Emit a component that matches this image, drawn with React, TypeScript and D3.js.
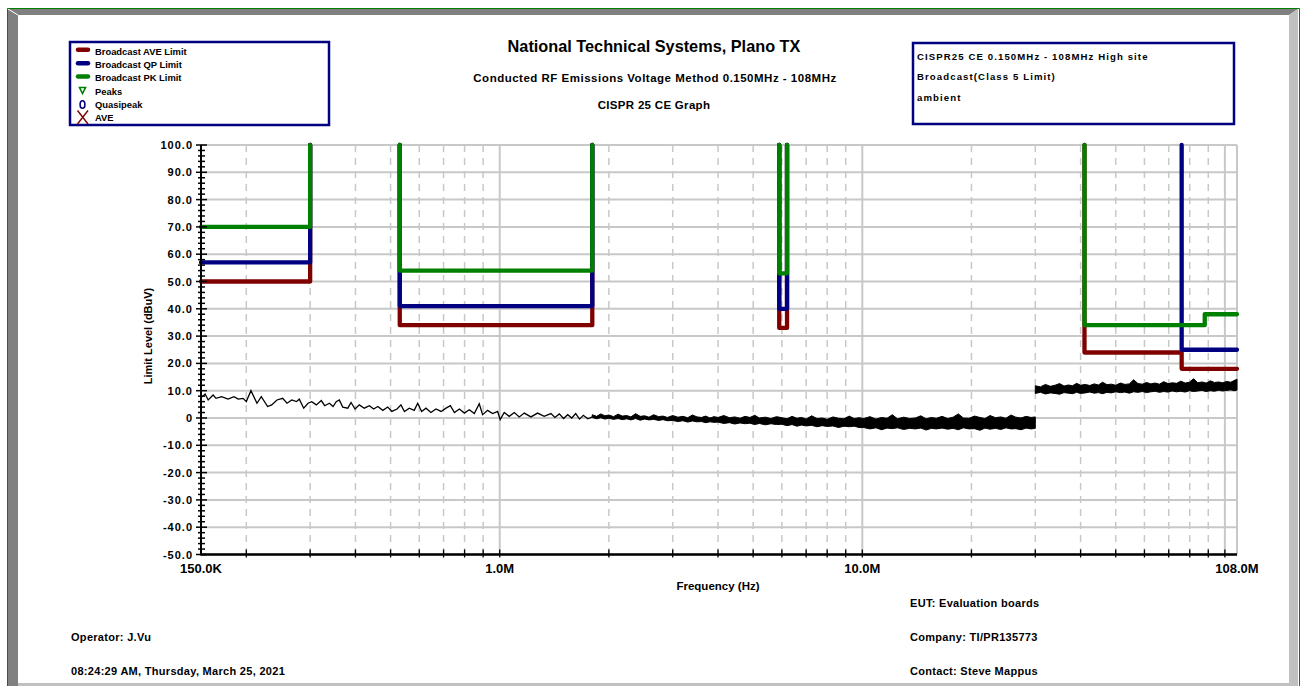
import React from "react";
import * as d3 from "d3";

const W = 1301;
const H = 686;
const PLOT = { left: 201, right: 1237, top: 145, bottom: 554.5 };
const FONT = '"Liberation Sans", Arial, Helvetica, sans-serif';

const RED = "#800000";
const NAVY = "#000080";
const GREEN = "#008000";
const GRID = "#c8c8c8";

// x axis (MHz)
const xTickMHz = [0.15, 1, 10, 108];
const xTickLabels = ["150.0K", "1.0M", "10.0M", "108.0M"];
// y axis (dBuV)
const yTickValues = [100, 90, 80, 70, 60, 50, 40, 30, 20, 10, 0, -10, -20, -30, -40, -50];
const yTickLabels = ["100.0", "90.0", "80.0", "70.0", "60.0", "50.0", "40.0", "30.0", "20.0", "10.0", "0", "-10.0", "-20.0", "-30.0", "-40.0", "-50.0"];

// limit lines: [start MHz, stop MHz, level dBuV]
const aveLimit = [[0.15, 0.3, 50], [0.53, 1.8, 34], [5.9, 6.2, 33], [41, 76, 24], [76, 108, 18]];
const qpLimit = [[0.15, 0.3, 57], [0.53, 1.8, 41], [5.9, 6.2, 40], [76, 108, 25]];
const pkLimit = [[0.15, 0.3, 70], [0.53, 1.8, 54], [5.9, 6.2, 53], [41, 88, 34], [88, 108, 38]];

// ambient scan, low part (MHz, dBuV)
const scanFreq = [
  0.150, 0.152, 0.154, 0.157, 0.162, 0.165, 0.171, 0.178, 0.185, 0.190, 0.196, 0.200, 0.206, 0.214, 0.220,
  0.229, 0.235, 0.243, 0.252, 0.259, 0.267, 0.275, 0.280, 0.288, 0.296, 0.303, 0.312, 0.322, 0.329, 0.339,
  0.347, 0.354, 0.361, 0.369, 0.381, 0.389, 0.399, 0.410, 0.423, 0.437, 0.449, 0.461, 0.476, 0.491, 0.504,
  0.521, 0.534, 0.546, 0.563, 0.581, 0.594, 0.609, 0.626, 0.646, 0.667, 0.689, 0.711, 0.731, 0.750, 0.774,
  0.799, 0.824, 0.851, 0.878, 0.897, 0.926, 0.956, 0.987, 1.003, 1.029, 1.062, 1.097, 1.132, 1.169, 1.219,
  1.272, 1.326, 1.384, 1.42, 1.46, 1.50, 1.54, 1.58, 1.62, 1.66, 1.70, 1.75, 1.80,
];
const scanLevel = [
  7.6, 8.1, 8.8, 6.6, 8.4, 7.2, 7.8, 6.9, 7.8, 6.9, 7.2, 6.0, 10.0, 5.4, 7.8,
  4.2, 4.8, 6.6, 7.2, 5.4, 6.6, 6.0, 6.9, 3.6, 5.4, 6.0, 4.8, 6.4, 4.5, 5.4,
  4.2, 6.0, 6.6, 4.0, 3.6, 5.7, 3.3, 4.8, 3.6, 4.5, 3.3, 4.2, 2.8, 4.0, 2.4,
  3.3, 4.8, 2.4, 3.6, 2.8, 5.4, 2.4, 3.6, 2.0, 3.3, 2.4, 3.6, 4.5, 2.0, 3.3,
  1.8, 3.0, 1.6, 5.2, 1.2, 2.8, 1.6, 2.4, -0.6, 2.0, 0.6, 2.0, 0.4, 1.8, 0.4,
  1.8, 0.6, 1.6, 0.2, 1.5, -0.2, 1.2, 0.0, 1.6, -0.4, 1.0, -0.3, 0.4,
];

// dense part of scan, drawn as min/max envelope
const bandAFreq = [
  1.8, 1.85, 1.9, 1.95, 2.0, 2.06, 2.12, 2.18, 2.24, 2.3, 2.37, 2.44, 2.51, 2.58, 2.66, 2.74, 2.82, 2.9,
  3.0, 3.1, 3.2, 3.3, 3.4, 3.5, 3.6, 3.7, 3.8, 3.9,
  4.0, 4.15, 4.3, 4.45, 4.6, 4.75, 4.9, 5.05, 5.2, 5.4, 5.6, 5.8,
  6.0, 6.2, 6.4, 6.6, 6.8, 7.0, 7.25, 7.5, 7.75, 8.0, 8.3, 8.6, 8.9, 9.2, 9.5, 9.8,
  10.1, 10.5, 10.9, 11.3, 11.7, 12.1, 12.5, 13.0, 13.5, 14.0, 14.5, 15.0, 15.5, 16.0,
  16.6, 17.2, 17.8, 18.4, 19.0, 19.7, 20.4, 21.1, 21.8, 22.5, 23.3, 24.1, 24.9, 25.7, 26.5, 27.4, 28.3, 29.2, 30.0,
];
const bandAHi = [
  1.2, 0.6, 1.5, 0.8, 1.1, 0.5, 1.4, 0.7, 0.9, 0.4, 1.6, 0.6, 0.8, 0.3, 1.2, 0.5, 0.7, 0.2,
  0.9, 0.3, 0.6, 0.1, 1.1, 0.4, 0.2, 0.7, 0.0, 0.5,
  0.2, 0.9, 0.1, 0.4, -0.1, 0.6, 0.2, 1.0, 0.0, 0.3, -0.2, 0.5,
  0.1, -0.3, 0.6, -0.1, 0.2, -0.4, 0.8, -0.2, 0.0, -0.5, 0.4, -0.1, -0.3, 0.7, -0.2, 0.1,
  -0.2, 0.5, -0.4, 0.2, -0.1, 1.2, -0.3, 0.3, -0.2, 0.0, 0.8, -0.3, 0.2, -0.1,
  0.6, -0.2, 0.3, 1.5, 0.0, -0.1, 0.7, 0.2, -0.2, 0.9, 0.1, 0.4, -0.1, 1.1, 0.3, 0.0, 0.6, 0.2, 0.4,
];
const bandALo = [
  0.2, -0.3, 0.1, -0.4, -0.1, -0.5, -0.2, -0.6, -0.3, -0.7, -0.2, -0.8, -0.4, -0.7, -0.5, -0.9, -0.6, -1.0,
  -0.9, -1.3, -1.0, -1.5, -1.1, -1.4, -1.3, -1.7, -1.4, -1.6,
  -1.5, -2.0, -1.7, -2.2, -1.8, -2.1, -1.9, -2.4, -2.0, -2.5, -2.1, -2.4,
  -2.3, -2.8, -2.4, -3.0, -2.6, -2.9, -2.7, -3.2, -2.8, -3.1, -2.9, -3.5, -3.0, -3.2, -3.0, -3.5,
  -3.5, -4.0, -3.6, -4.3, -3.7, -3.9, -3.6, -4.2, -3.8, -4.0, -3.7, -4.4, -3.8, -4.0,
  -3.7, -4.1, -3.8, -4.3, -3.6, -4.0, -3.9, -4.5, -3.7, -4.1, -3.8, -4.2, -3.6, -4.0, -3.9, -4.3, -3.7, -4.0, -3.8,
];

const bandBFreq = [
  30, 31, 32, 33, 34, 35, 36, 37, 38, 39, 40, 41.2, 42.4, 43.6, 44.8, 46, 47.3, 48.6,
  50, 51.5, 53, 54.5, 56, 57.6, 59.2, 60.8, 62.5, 64.2, 66, 67.8, 69.7,
  71.6, 73.6, 75.6, 77.7, 79.8, 82, 84.2, 86.5, 88.8, 91.2, 93.6, 96.1, 98.6, 101.2, 103.8, 106, 108,
];
const bandBHi = [
  11.8, 11.4, 12.3, 11.6, 12.0, 12.6, 11.7, 12.1, 11.8, 12.7, 12.0, 12.3, 11.9, 12.5, 12.1, 13.1, 12.2, 12.4,
  12.0, 12.8, 12.3, 12.5, 14.0, 12.6, 12.4, 13.0, 12.5, 12.8, 12.4, 13.3, 12.6,
  12.9, 12.7, 13.5, 12.8, 13.1, 14.4, 12.9, 13.2, 12.8, 13.6, 13.0, 13.2, 12.9, 13.4, 13.1, 13.7, 14.2,
];
const bandBLo = [
  9.0, 9.4, 8.8, 9.2, 9.0, 8.7, 9.3, 9.1, 8.9, 9.4, 9.0, 9.2, 9.5, 9.1, 9.3, 8.9, 9.4, 9.2,
  9.6, 9.3, 9.5, 9.1, 9.6, 9.4, 9.7, 9.3, 9.6, 9.8, 9.4, 9.7, 9.5,
  9.9, 9.6, 9.8, 9.5, 10.0, 9.7, 9.9, 10.1, 9.7, 10.0, 9.8, 10.2, 9.9, 10.1, 10.3, 10.0, 10.2,
];

const legendNames = ["Broadcast AVE Limit", "Broadcast QP Limit", "Broadcast PK Limit", "Peaks", "Quasipeak", "AVE"];
const infoLines = ["CISPR25 CE 0.150MHz - 108MHz High site", "Broadcast(Class 5 Limit)", "ambient"];

const x = d3.scaleLog().domain([0.15, 108]).range([PLOT.left, PLOT.right]);
const y = d3.scaleLinear().domain([-50, 100]).range([PLOT.bottom, PLOT.top]);

const line = d3.line<[number, number]>().x((d) => x(d[0])).y((d) => y(d[1]));

// one path per limit series, jumping off the top of the chart between bands
function limitPath(segs: number[][]) {
  let parts: [number, number][][] = [];
  let cur: [number, number][] = [];
  segs.forEach((s, i) => {
    const prev = segs[i - 1];
    if (prev && prev[1] === s[0]) {
      cur.push([s[0], s[2]]);
    } else {
      if (cur.length) parts.push(cur);
      cur = s[0] <= 0.15 ? [] : [[s[0], 100]];
      cur.push([s[0], s[2]]);
    }
    cur.push([s[1], s[2]]);
    const next = segs[i + 1];
    if (!(next && next[0] === s[1]) && s[1] < 108) cur.push([s[1], 100]);
  });
  parts.push(cur);
  return parts.map((p) => line(p)).join("");
}

function bandPath(freq: number[], hi: number[], lo: number[]) {
  const area = d3
    .area<number>()
    .x((_, i) => x(freq[i]))
    .y0((_, i) => y(lo[i]))
    .y1((_, i) => y(hi[i]));
  return area(freq) as string;
}

const App = () => {
  // gridline frequencies: 2..9 multiples dashed, decades solid
  const gridF: { f: number; solid: boolean }[] = [];
  [0.1, 1, 10, 100].forEach((dec) => {
    for (let k = 1; k <= 9; k++) {
      const f = dec * k;
      if (f > 0.15 && f < 108) gridF.push({ f, solid: k === 1 });
    }
  });
  const minorY = d3.range(-50, 101, 2);
  const scanPts = scanFreq.map((f, i) => [f, scanLevel[i]] as [number, number]);

  return (
    <svg width={W} height={H} style={{ position: "absolute", left: 0, top: 0, background: "#fff" }} fontFamily={FONT}>
      <rect x={0} y={0} width={W} height={H} fill="#fff" />
      {/* frame bevel */}
      <polygon points="8,9 1298,9 1289,15 18,15" fill="#808080" />
      <polygon points="8,9 18,15 18,686 8,686" fill="#808080" />
      <polygon points="1298,9 1298,686 1289,686 1289,15" fill="#c0c0c0" />
      <rect x={18} y={683} width={1271} height={3} fill="#c0c0c0" />
      <line x1={8} y1={9} x2={18} y2={15} stroke="#fff" strokeWidth={1} />
      <path d="M7.5,686 V8.5 H1299.5 V686" fill="none" stroke={GREEN} strokeWidth={1} />

      {/* titles */}
      <g fontWeight="bold" textAnchor="middle" fill="#000">
        <text x={654} y={52} fontSize={16.3}>National Technical Systems, Plano TX</text>
        <text x={655} y={82} fontSize={11.5} letterSpacing={0.5}>Conducted RF Emissions Voltage Method 0.150MHz - 108MHz</text>
        <text x={654} y={109} fontSize={11.5} letterSpacing={0.3}>CISPR 25 CE Graph</text>
      </g>

      {/* legend */}
      <rect x={70} y={42} width={259} height={83} fill="#fff" stroke={NAVY} strokeWidth={2.5} />
      <g fontWeight="bold" fontSize={9.4} fill="#000">
        {legendNames.map((n, i) => (
          <text key={n} x={95} y={54.7 + i * 13.35}>{n}</text>
        ))}
      </g>
      {[RED, NAVY, GREEN].map((c, i) => (
        <line key={c} x1={78} x2={88} y1={49.8 + i * 13.35} y2={49.8 + i * 13.35} stroke={c} strokeWidth={4.5} strokeLinecap="round" />
      ))}
      <path d="M79.5,87.5 L85.5,87.5 L82.5,93.5 Z" fill="none" stroke={GREEN} strokeWidth={1.6} />
      <ellipse cx={82.5} cy={104.5} rx={2.4} ry={3.8} fill="none" stroke={NAVY} strokeWidth={1.6} />
      <path d="M77.5,110.5 L88,124 M88,110.5 L77.5,124" stroke={RED} strokeWidth={1.4} fill="none" />

      {/* info box */}
      <rect x={913} y={43} width={321} height={81} fill="#fff" stroke={NAVY} strokeWidth={2.5} />
      <g fontWeight="bold" fontSize={9.6} fill="#000" letterSpacing={1.1}>
        {infoLines.map((t, i) => (
          <text key={t} x={917} y={[59.5, 80, 100.5][i]}>{t}</text>
        ))}
      </g>

      {/* grid */}
      <g>
        {yTickValues.map((v) => (
          <line key={v} x1={PLOT.left} x2={PLOT.right} y1={y(v)} y2={y(v)} stroke={GRID} strokeWidth={2} />
        ))}
        {gridF.map((g) => (
          <line key={g.f} x1={x(g.f)} x2={x(g.f)} y1={PLOT.top} y2={PLOT.bottom} stroke={GRID} strokeWidth={g.solid ? 2 : 1.5} strokeDasharray={g.solid ? undefined : "7,6"} />
        ))}
        <line x1={x(108)} x2={x(108)} y1={PLOT.top} y2={PLOT.bottom} stroke={GRID} strokeWidth={2} />
      </g>

      {/* ambient scan */}
      <path d={line(scanPts) as string} fill="none" stroke="#000" strokeWidth={1.3} />
      <path d={bandPath(bandAFreq, bandAHi, bandALo)} fill="#000" stroke="#000" strokeWidth={1} strokeLinejoin="miter" />
      <path d={bandPath(bandBFreq, bandBHi, bandBLo)} fill="#000" stroke="#000" strokeWidth={1} strokeLinejoin="miter" />

      {/* limits */}
      {[
        { segs: aveLimit, c: RED },
        { segs: qpLimit, c: NAVY },
        { segs: pkLimit, c: GREEN },
      ].map((s) => (
        <path key={s.c} d={limitPath(s.segs)} fill="none" stroke={s.c} strokeWidth={4.3} strokeLinejoin="round" strokeLinecap="round" />
      ))}

      {/* axes */}
      <line x1={PLOT.left} x2={PLOT.left} y1={PLOT.top} y2={PLOT.bottom + 1} stroke="#000" strokeWidth={2} />
      {minorY.map((v) => (
        <line key={v} x1={v % 10 === 0 ? 196 : 198} x2={v % 10 === 0 ? 207 : 205} y1={y(v)} y2={y(v)} stroke="#000" strokeWidth={1.5} />
      ))}
      <line x1={PLOT.left} x2={PLOT.right} y1={PLOT.bottom} y2={PLOT.bottom} stroke="#000" strokeWidth={2.5} />
      {gridF.map((g) => (
        <line key={g.f} x1={x(g.f)} x2={x(g.f)} y1={PLOT.bottom - 5} y2={PLOT.bottom + 3} stroke="#000" strokeWidth={1.3} />
      ))}

      <g fontWeight="bold" fontSize={11} fill="#000" textAnchor="end" letterSpacing={1}>
        {yTickValues.map((v, i) => (
          <text key={v} x={193} y={y(v) + 4}>{yTickLabels[i]}</text>
        ))}
      </g>
      <g fontWeight="bold" fontSize={13} fill="#000" textAnchor="middle">
        {xTickMHz.map((f, i) => (
          <text key={f} x={x(f)} y={573}>{xTickLabels[i]}</text>
        ))}
      </g>
      <text x={718} y={590} fontSize={11.5} fontWeight="bold" textAnchor="middle">Frequency (Hz)</text>
      <text transform="translate(152,336) rotate(-90)" fontSize={11} fontWeight="bold" textAnchor="middle">Limit Level (dBuV)</text>

      {/* footer */}
      <g fontWeight="bold" fontSize={11} fill="#000" letterSpacing={0.3}>
        <text x={71} y={641}>Operator: J.Vu</text>
        <text x={71} y={675}>08:24:29 AM, Thursday, March 25, 2021</text>
        <text x={910} y={607}>EUT: Evaluation boards</text>
        <text x={910} y={641}>Company: TI/PR135773</text>
        <text x={910} y={675}>Contact: Steve Mappus</text>
      </g>
    </svg>
  );
};

export default App;
